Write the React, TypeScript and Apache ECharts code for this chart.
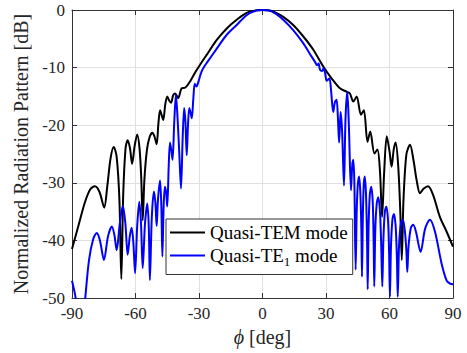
import React, { useEffect, useRef } from 'react';
import * as echarts from 'echarts';

const seriesNames = ['Quasi-TEM mode', 'Quasi-TE1 mode'];
const phiRange = [-90, 90];
const dbRange = [-50, 0];

// [phi (deg), normalized pattern (dB)]
const quasiTEM: [number, number][] = [
  [-90, -41.5], [-87, -37.5], [-84, -33.5], [-81.5, -31.2], [-79.2, -30.6], [-77, -31.6], [-74.8, -34.3],
  [-73.3, -30.5], [-71.8, -25.8], [-70.3, -23.8], [-68.9, -25.5], [-67.6, -33], [-66.7, -46.7], [-65.8, -32],
  [-64.7, -24], [-63.7, -22.6], [-62.6, -24], [-61.6, -26.7], [-60.4, -23.6], [-59.2, -21.6], [-58.1, -24],
  [-57.3, -29], [-56.6, -36.5], [-55.8, -29.5], [-54.6, -24.3], [-53.3, -22], [-52, -21.3], [-51, -22],
  [-50, -23.3], [-49.2, -19.8], [-48.4, -17.4], [-47.6, -18.3], [-46.9, -19.1], [-45.9, -16.3], [-45, -15],
  [-44.1, -15.7], [-43.2, -16.1], [-42.2, -14.8], [-41.3, -14.5], [-40.5, -14.9], [-39.8, -15.3], [-38.2, -13.6],
  [-36.6, -13.5], [-34.2, -12.4], [-31.9, -10.9], [-29.5, -9.5], [-26.4, -7.8], [-21.6, -5.2], [-16.9, -3.2],
  [-12.2, -1.7], [-7.5, -0.5], [-2.7, -0.05], [0, 0], [2.7, -0.05], [6, -0.4], [9.8, -1.2], [14.5, -2.6],
  [19.3, -4.6], [24, -6.9], [28.7, -9.8], [32.7, -11.9], [36.6, -13.6], [39.8, -14.2], [41.3, -14.5],
  [42.9, -15.9], [44.5, -15], [46.5, -18.2], [47.9, -17.4], [49.6, -22.9], [50.9, -21.1], [52.9, -24.9],
  [54.3, -24.2], [55.5, -28], [56.5, -35.9], [57.5, -28], [58.7, -21.9], [60, -24.5], [61, -27.2],
  [62, -24.2], [62.9, -23], [64.1, -27], [65.1, -35], [65.8, -43.4], [66.6, -33], [68, -25], [69.7, -23.4],
  [71.3, -26], [72.8, -29.5], [74.4, -31.8], [76.2, -31], [78.2, -30.6], [80.5, -32], [83.8, -35.9],
  [87, -38.5], [90, -41.1],
];

const quasiTE1: [number, number][] = [
  [-90, -47], [-88.5, -49.5], [-87, -53], [-85.5, -56], [-84, -51], [-82, -43.5], [-80, -39.8], [-78.3, -38.7],
  [-76.8, -40], [-74.9, -43.4], [-73, -39.3], [-71.2, -37.6], [-70, -39], [-68.9, -41.7], [-67.4, -37],
  [-66, -34], [-64.8, -37], [-63.7, -42.5], [-62.7, -39.3], [-61.8, -37.8], [-61, -40.5], [-60.2, -45.7],
  [-59.2, -37.5], [-58.2, -33.3], [-57.4, -37], [-56.6, -44.8], [-55.5, -37], [-54.4, -33.6], [-53.7, -38],
  [-53.2, -46.9], [-52.3, -36], [-51.3, -31.5], [-50.6, -33.5], [-50, -37.5], [-49.4, -33], [-48.4, -29.6],
  [-47.8, -34], [-47.3, -42.8], [-46.7, -34], [-46.1, -30.7], [-45.5, -31.8], [-45, -34.1], [-44.3, -27],
  [-43.7, -23], [-43.1, -24.3], [-42.5, -26], [-41.7, -19.5], [-40.9, -14.7], [-40.1, -19], [-39.3, -25],
  [-38.5, -31], [-37.7, -22], [-37, -17], [-36.4, -19.5], [-35.8, -25.2], [-35.2, -20], [-34.6, -17],
  [-34, -17.8], [-33.4, -18.8], [-32.7, -15.5], [-32, -12.8], [-31.2, -13.3], [-30.4, -12.6], [-29.6, -11.6],
  [-28.7, -10.6], [-27.5, -9.8], [-26, -9], [-21.6, -6.7], [-16.9, -4.3], [-12.2, -2.6], [-7.5, -0.9],
  [-3, -0.1], [0, 0], [3, -0.1], [6, -0.6], [9.8, -1.7], [14.5, -3.5], [19.3, -5.8], [23.2, -8.1],
  [24.8, -9], [25.8, -9.6], [26.5, -9.3], [27.2, -10.4], [28.2, -10.6], [28.8, -10.1], [29.6, -11],
  [30.3, -12.3], [31.6, -11.9], [32.4, -14], [33.4, -17.7], [34.2, -16], [35, -15.6], [35.6, -18.5],
  [36.2, -23], [36.9, -17.7], [37.6, -21], [38.5, -30.5], [39.2, -19], [40.05, -14.2], [40.8, -20],
  [41.8, -31.3], [42.4, -27], [42.9, -26], [43.4, -30], [44, -45.1], [44.5, -35], [45, -30.5], [45.6, -28.9],
  [46.2, -31.5], [46.7, -38], [47, -46.3], [47.4, -36], [47.8, -30.5], [48.3, -28.9], [48.9, -32],
  [49.4, -40], [49.7, -48.5], [50.1, -38], [50.7, -32], [51.4, -30.7], [52.1, -33.5], [52.5, -40],
  [52.8, -48], [53.3, -38], [54, -33.5], [54.7, -32.5], [55.5, -35], [56.1, -41], [56.6, -48], [57.1, -40],
  [57.8, -35], [58.5, -34.1], [59.3, -36.5], [59.8, -42], [60.2, -49.8], [60.7, -41], [61.4, -36.3],
  [62.1, -35.4], [62.9, -37.5], [63.5, -43], [63.9, -49.8], [64.5, -41], [65.4, -37], [66.3, -36.4],
  [67.3, -38.5], [68, -42], [68.4, -45.5], [69, -41], [70.1, -37.8], [71.2, -37.3], [72.5, -38.5],
  [74.7, -42], [76.8, -38], [79.1, -36.4], [81.5, -38.5], [84.6, -44], [87, -47], [88.6, -47.5], [90, -47.6],
];

export default function App() {
  const ref = useRef<HTMLDivElement>(null);
  useEffect(() => {
    const chart = echarts.init(ref.current!, null, { renderer: 'svg' });
    const font = 'Liberation Serif';
    const ink = '#262626';
    const axisLine = { show: true, onZero: false, lineStyle: { color: '#333', width: 1 } };
    const tick = { show: true, inside: true, length: 5, lineStyle: { color: '#333', width: 1 } };
    const grid = { lineStyle: { color: '#e0e0e0', width: 1 } };
    chart.setOption({
      animation: false,
      backgroundColor: '#fff',
      textStyle: { fontFamily: font },
      grid: { left: 72, top: 10, width: 381, height: 288 },
      xAxis: [
        {
          type: 'value', min: phiRange[0], max: phiRange[1], interval: 30, position: 'bottom',
          name: '{i|ϕ} [deg]', nameLocation: 'middle', nameGap: 29,
          nameTextStyle: { fontSize: 20, color: ink, fontFamily: font, rich: { i: { fontStyle: 'italic', fontSize: 20, color: ink, fontFamily: font } } },
          axisLine, axisTick: tick,
          axisLabel: { fontSize: 17, color: ink, margin: 7, fontFamily: font },
          splitLine: { show: true, ...grid },
        },
        {
          type: 'value', min: phiRange[0], max: phiRange[1], interval: 30, position: 'top',
          axisLine, axisTick: tick, axisLabel: { show: false }, splitLine: { show: false },
        },
      ],
      yAxis: [
        {
          type: 'value', min: dbRange[0], max: dbRange[1], interval: 10, position: 'left',
          name: 'Normalized Radiation Pattern [dB]', nameLocation: 'middle', nameGap: 33, nameRotate: 90,
          nameTextStyle: { fontSize: 20, color: ink, fontFamily: font },
          axisLine, axisTick: tick,
          axisLabel: { fontSize: 17, color: ink, margin: 7, fontFamily: font },
          splitLine: { show: true, ...grid },
        },
        {
          type: 'value', min: dbRange[0], max: dbRange[1], interval: 10, position: 'right',
          axisLine, axisTick: tick, axisLabel: { show: false }, splitLine: { show: false },
        },
      ],
      legend: {
        orient: 'vertical', left: 166, top: 219,
        padding: [4, 5, 7, 3], itemGap: 4, itemWidth: 35, itemHeight: 20,
        backgroundColor: '#fff', borderColor: '#333', borderWidth: 1, borderRadius: 0,
        data: seriesNames,
        itemStyle: { opacity: 0 },
        lineStyle: { width: 2 },
        formatter: (name: string) => name === seriesNames[1] ? '{n|Quasi-TE}{s|1}{n| mode}' : '{n|' + name + '}',
        textStyle: {
          fontFamily: font, fontSize: 19, color: '#000',
          rich: {
            n: { fontSize: 19, fontFamily: font, color: '#000' },
            s: { fontSize: 13, fontFamily: font, color: '#000', padding: [11, 0, 0, 0] },
          },
        },
        z: 10,
      },
      series: [
        {
          name: seriesNames[0], type: 'line', data: quasiTEM, symbol: 'none', showSymbol: false,
          smooth: 0.3, clip: true, lineStyle: { color: '#000', width: 2 }, itemStyle: { color: '#000' }, z: 3,
        },
        {
          name: seriesNames[1], type: 'line', data: quasiTE1, symbol: 'none', showSymbol: false,
          smooth: 0.3, clip: true, lineStyle: { color: '#0000ff', width: 2 }, itemStyle: { color: '#0000ff' }, z: 4,
        },
      ],
    });
    return () => chart.dispose();
  }, []);
  return <div ref={ref} style={{ position: 'absolute', left: 0, top: 0, width: 467, height: 353 }} />;
}
